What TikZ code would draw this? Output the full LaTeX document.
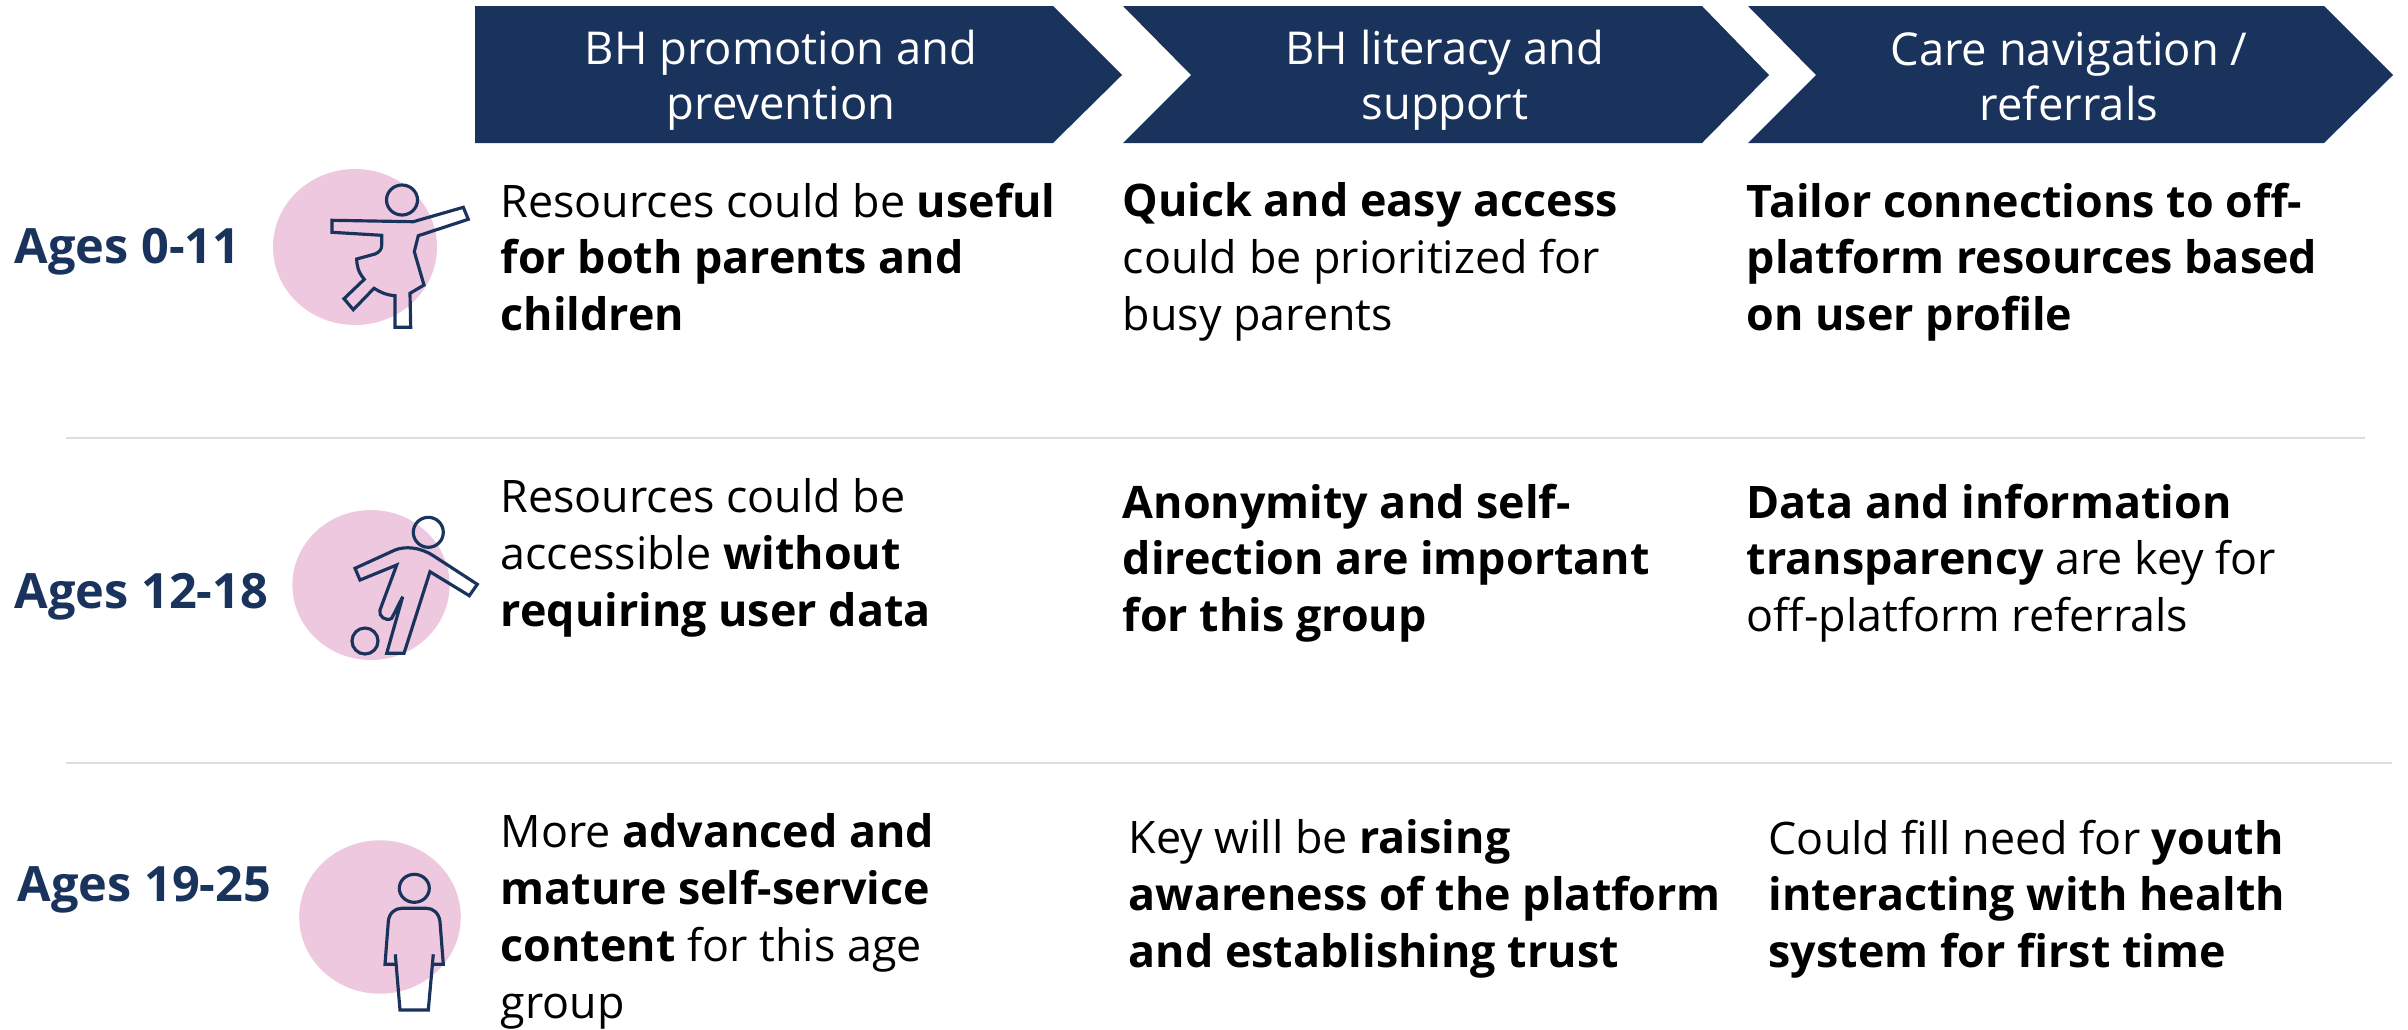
\documentclass[tikz,border=0pt]{standalone}
\usepackage{fontspec}
\setmainfont{Open Sans}
\usepackage{xcolor}
\definecolor{navy}{HTML}{1A335D}
\definecolor{pinkdisc}{HTML}{EDC8DF}
\definecolor{rulegray}{HTML}{DDDDDD}
\tikzset{
    chevron/.style={fill=navy},
    headtext/.style={text=white, align=center, font=\fontsize{12.9pt}{15.65pt}\selectfont},
    agetext/.style={text=navy, anchor=west, inner sep=0, font=\fontsize{13.85pt}{15pt}\selectfont\bfseries},
    celltext/.style={text=black, anchor=north west, inner sep=0, align=left, font=\fontsize{12.75pt}{16.2pt}\selectfont},
    figline/.style={draw=navy, line width=0.9pt, line join=miter},
    sepline/.style={draw=rulegray, line width=0.4pt}
}
\begin{document}
\begin{tikzpicture}[x=0.1mm,y=-0.1mm]
        \useasboundingbox (0,0) rectangle (2408,1029);

        \fill [chevron] (475,6) -- (1053,6) -- (1122,75) -- (1053,143) -- (475,143) -- cycle;
        \fill [chevron] (1123,6) -- (1702,6) -- (1769,75) -- (1702,143) -- (1123,143) -- (1191,75) -- cycle;
        \fill [chevron] (1748,6) -- (2324,6) -- (2393,75) -- (2324,143) -- (1748,143) -- (1816,75) -- cycle;

        \node [headtext] (headpromo) at (781,80) {BH promotion and\\prevention};
        \node [headtext] (headliteracy) at (1445,80) {BH literacy and\\support};
        \node [headtext] (headcare) at (2069,77) {Care navigation /\\referrals};

        \draw [sepline] (66,438) -- (2365,438);
        \draw [sepline] (66,763) -- (2392,763);

        % first row
        \node [agetext] (agesyoung) at (14,252) {Ages 0-11};
        \fill [pinkdisc] (355,247) ellipse (82 and 78);
        \draw [figline] (402,200) ellipse (15.5 and 15);
        \draw [figline] (332,220.3) -- (413.3,221.7) -- (463.3,207.3) -- (468.3,219.3) -- (418.3,235.7) -- (414.3,251.7) -- (424,285) -- (410,293.3) -- (410.7,327.3) -- (395,327.3) -- (395,295.7) .. controls (386,295) and (380,292) .. (374,288.3) -- (353.3,309.7) -- (344,298.7) -- (364.3,279.3) .. controls (358,272) and (356.7,265) .. (356.7,259) -- (375,254) .. controls (380,252) and (381.7,249) .. (381.7,245) -- (381.7,235.3) -- (332,232.3) -- cycle;
        \node [celltext] (youngpromo) at (500,182) {Resources could be \textbf{useful}\\\textbf{for both parents and}\\\textbf{children}};
        \node [celltext] (youngliteracy) at (1122,182) {\textbf{Quick and easy access}\\could be prioritized for\\busy parents};
        \node [celltext] (youngcare) at (1746,182) {\textbf{Tailor connections to off-}\\\textbf{platform resources based}\\\textbf{on user profile}};

        % second row
        \node [agetext] (agesteen) at (14,597) {Ages 12-18};
        \fill [pinkdisc] (371,585) ellipse (78.6 and 75);
        \draw [figline] (428.3,532.3) circle (15);
        \draw [figline] (365,641) circle (13);
        \draw [figline] (355,568.3) -- (395,550) .. controls (405,546) and (420,547) .. (433.3,555.7) -- (477.3,584.3) -- (469.3,595.7) -- (430,571.7) -- (404,653.3) -- (386.7,653.3) -- (402.7,596.7) -- (391.7,618.3) .. controls (386,622) and (378,616) .. (380,610) -- (396.7,565) -- (360,580) -- cycle;
        \node [celltext] (teenpromo) at (500,478) {Resources could be\\accessible \textbf{without}\\\textbf{requiring user data}};
        \node [celltext] (teenliteracy) at (1122,483) {\textbf{Anonymity and self-}\\\textbf{direction are important}\\\textbf{for this group}};
        \node [celltext] (teencare) at (1746,483) {\textbf{Data and information}\\\textbf{transparency} are key for\\off-platform referrals};

        % third row
        \node [agetext] (agesadult) at (17,890) {Ages 19-25};
        \fill [pinkdisc] (380,917) ellipse (80.8 and 76.7);
        \draw [figline] (414.3,888.3) ellipse (15 and 14);
        \draw [figline] (395.3,954.3) -- (400,1010) -- (428.3,1010) -- (433.3,954.3);
        \draw [figline] (396.3,964.3) -- (385,964.3) -- (388.3,921.7) .. controls (389,913) and (395,908.3) .. (401.7,908.3) -- (426.7,908.3) .. controls (433,908.3) and (439,913) .. (440,921.7) -- (443.3,964.3) -- (432.3,964.3);
        \node [celltext] (adultpromo) at (500,813) {More \textbf{advanced and}\\\textbf{mature self-service}\\\textbf{content} for this age\\group};
        \node [celltext] (adultliteracy) at (1128,819) {Key will be \textbf{raising}\\\textbf{awareness of the platform}\\\textbf{and establishing trust}};
        \node [celltext] (adultcare) at (1768,819) {Could fill need for \textbf{youth}\\\textbf{interacting with health}\\\textbf{system for first time}};
    \end{tikzpicture}
\end{document}
